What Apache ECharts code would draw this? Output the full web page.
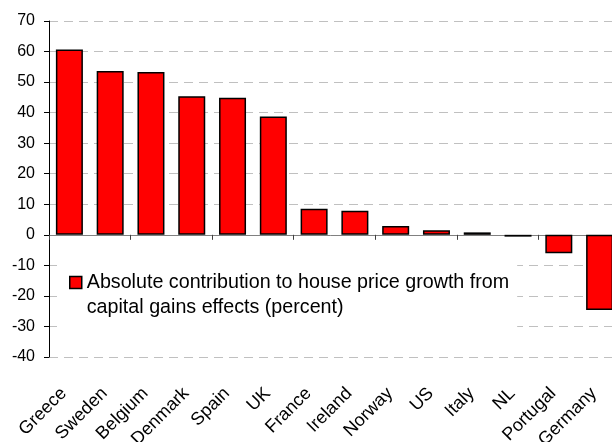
<!DOCTYPE html>
<html>
<head>
<meta charset="utf-8">
<script src="https://cdn.jsdelivr.net/npm/echarts@6/dist/echarts.min.js"></script>
<style>html,body{margin:0;padding:0;background:#fff}#c{width:612px;height:442px}</style>
</head>
<body>
<div id="c"></div>
<script>
var categories = ['Greece','Sweden','Belgium','Denmark','Spain','UK','France','Ireland','Norway','US','Italy','NL','Portugal','Germany'];
var values = [60.7, 53.6, 53.3, 45.4, 44.9, 38.7, 8.5, 7.9, 2.9, 1.5, 0.8, -0.6, -6.0, -24.6];
var seriesName = 'Absolute contribution to house price growth from capital gains effects (percent)';
var legendLines = ['Absolute contribution to house price growth from', 'capital gains effects (percent)'];
var yMin = -40, yMax = 70, yStep = 10;

var FONT = "'Liberation Sans', Arial, sans-serif";
var chart = echarts.init(document.getElementById('c'), null, {renderer: 'canvas'});
chart.setOption({
  animation: false,
  backgroundColor: '#ffffff',
  grid: {left: 49, top: 21, right: -8, bottom: 85, containLabel: false, outerBoundsMode: 'none'},
  legend: {
    show: true,
    data: [{name: seriesName, icon: 'rect'}],
    left: 57,
    top: 245,
    orient: 'vertical',
    backgroundColor: '#ffffff',
    padding: [0, 8, 12, 12],
    itemWidth: 12,
    itemHeight: 12,
    itemGap: 0,
    itemStyle: {color: '#ff0000', borderColor: '#000000', borderWidth: 1.5},
    formatter: function () { return '\n' + legendLines.join('\n'); },
    textStyle: {fontFamily: FONT, fontSize: 19.7, color: '#000', lineHeight: 25}
  },
  xAxis: [{
    type: 'category',
    data: categories,
    position: 'bottom',
    axisLine: {show: true, onZero: true, lineStyle: {color: '#808080', width: 1}},
    axisTick: {show: true, length: 5, inside: false, lineStyle: {color: '#404040', width: 1}},
    axisLabel: {show: false},
    splitLine: {show: false}
  }, {
    type: 'category',
    data: categories,
    position: 'bottom',
    axisLine: {show: false, onZero: false},
    axisTick: {show: false},
    axisLabel: {show: true, interval: 0, rotate: 45, margin: 28, padding: [0, 8, 0, 0], fontFamily: FONT, fontSize: 18, color: '#000'},
    splitLine: {show: false}
  }],
  yAxis: {
    type: 'value',
    min: yMin, max: yMax, interval: yStep,
    axisLine: {show: true, lineStyle: {color: '#000', width: 1}},
    axisTick: {show: true, length: 5, lineStyle: {color: '#000'}},
    axisLabel: {fontFamily: FONT, fontSize: 16, color: '#000', margin: 14},
    splitLine: {show: true, lineStyle: {color: '#c0c0c0', width: 1, type: [9, 6]}}
  },
  series: [{
    name: seriesName,
    type: 'bar',
    xAxisIndex: 0,
    data: values,
    barWidth: 27,
    itemStyle: {color: '#ff0000', borderColor: '#000000', borderWidth: 1.5}
  }]
});
</script>
</body>
</html>
